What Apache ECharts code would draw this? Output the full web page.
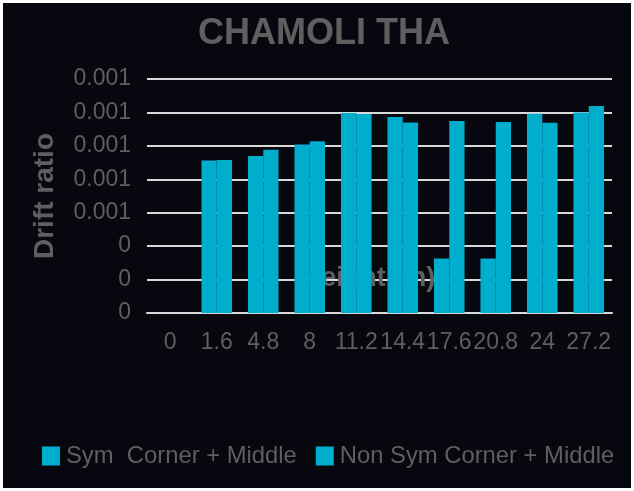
<!DOCTYPE html>
<html>
<head>
<meta charset="utf-8">
<script src="https://cdn.jsdelivr.net/npm/echarts@6/dist/echarts.min.js"></script>
<style>
html,body{margin:0;padding:0;background:#ffffff;}
#chart{position:absolute;left:3px;top:3px;width:628px;height:485px;background:#07070f;}
</style>
</head>
<body>
<div id="chart"></div>
<script>
const categories = ['0','1.6','4.8','8','11.2','14.4','17.6','20.8','24','27.2'];
const symValues = [0, 0.000912, 0.00094, 0.001008, 0.001196, 0.001172, 0.000326, 0.000326, 0.001192, 0.0012];
const nonSymValues = [0, 0.000916, 0.000976, 0.001028, 0.00119, 0.00114, 0.001148, 0.001142, 0.001138, 0.001238];
const yTickLabels = ['0','0','0','0.001','0.001','0.001','0.001','0.001'];
const seriesNames = ['Sym  Corner + Middle','Non Sym Corner + Middle'];

const FONT = '"Liberation Sans", Arial, sans-serif';
const TXT = '#5f5f5f';
const BAR = '#00adcc';

const chart = echarts.init(document.getElementById('chart'));
chart.setOption({
  backgroundColor: '#07070f',
  animation: false,
  title: {
    text: 'CHAMOLI THA',
    left: 316, top: 8, textAlign: 'center',
    textStyle: {color: TXT, fontFamily: FONT, fontWeight: 'bold', fontSize: 36}
  },
  legend: {
    left: 34, top: 436, width: 620,
    itemWidth: 18, itemHeight: 19, itemGap: 19,
    icon: 'rect',
    textStyle: {color: TXT, fontFamily: FONT, fontSize: 23.8, padding: [0,0,0,1]},
    data: seriesNames
  },
  grid: {left: 144, right: 19, top: 76, bottom: 175, containLabel: false},
  xAxis: {
    type: 'category',
    data: categories,
    name: 'Height (m)',
    nameLocation: 'middle',
    nameGap: -48,
    nameTextStyle: {color: TXT, fontFamily: FONT, fontWeight: 'bold', fontSize: 27, padding: [0,0,0,-22]},
    axisLine: {lineStyle: {color: '#d9d9d9', width: 2}},
    axisTick: {show: false},
    axisLabel: {color: TXT, fontFamily: FONT, fontSize: 23, margin: 18, interval: 0}
  },
  yAxis: {
    type: 'value',
    min: 0, max: 0.0014, interval: 0.0002,
    name: 'Drift ratio',
    nameLocation: 'middle',
    nameGap: 88,
    nameTextStyle: {color: TXT, fontFamily: FONT, fontWeight: 'bold', fontSize: 28},
    axisLine: {show: false},
    axisTick: {show: false},
    splitLine: {lineStyle: {color: '#d9d9d9', width: 2}},
    axisLabel: {
      color: TXT, fontFamily: FONT, fontSize: 23, margin: 16,
      formatter: (v, i) => yTickLabels[i]
    }
  },
  series: [
    {name: seriesNames[0], type: 'bar', data: symValues, barWidth: 15.3, barGap: '0%',
     itemStyle: {color: BAR}},
    {name: seriesNames[1], type: 'bar', data: nonSymValues, barWidth: 15.3, barGap: '0%',
     itemStyle: {color: BAR}}
  ]
});
</script>
</body>
</html>
